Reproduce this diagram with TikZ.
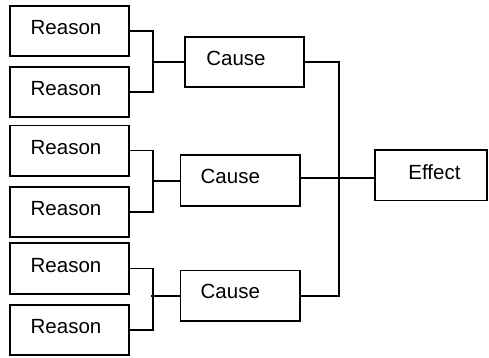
\documentclass[tikz,border=0pt]{standalone}
\usepackage{fontspec}
\setmainfont{Liberation Sans}
\begin{document}
\begin{tikzpicture}[x=1pt,y=-1pt,
  box/.style={draw=black,line width=1.6pt,minimum width=119.5pt,minimum height=50.5pt,inner sep=0pt},
  effbox/.style={box,minimum width=112.5pt},
  txt/.style={inner sep=0pt,font=\fontsize{20.5}{24}\selectfont},
  conn/.style={draw=black,line width=1.4pt}]
\useasboundingbox (0,0) rectangle (489,358);
% Reason boxes
\node[box] (r1) at (69.5,31) {};
\node[box] (r2) at (69.5,92) {};
\node[box] (r3) at (69.5,150.7) {};
\node[box] (r4) at (69.5,212) {};
\node[box] (r5) at (69.5,268.5) {};
\node[box] (r6) at (69.5,330) {};
\foreach \n in {r1,r2,r3,r4,r5,r6}
  \node[txt] at ([shift={(-3.5,-3)}]\n.center) {Reason};
% Cause boxes
\node[box] (c1) at (244.5,62) {};
\node[box] (c2) at (240.3,180.5) {};
\node[box] (c3) at (240.3,295.7) {};
\node[txt] at ([shift={(-8.5,-4)}]c1.center) {Cause};
\node[txt] at ([shift={(-10,-4)}]c2.center) {Cause};
\node[txt] at ([shift={(-10,-4)}]c3.center) {Cause};
% Effect box
\node[effbox] (e) at (431,175.2) {};
\node[txt] at ([shift={(3.5,-3)}]e.center) {Effect};
% bracket junctions
\coordinate (k1) at (153,62);
\coordinate (k2) at (153,181);
\coordinate (k3) at (153,296);
\coordinate (t1) at (339,62);
\coordinate (t3) at (339,296);
\coordinate (j) at (339,178);
% brackets
\draw[conn] (r1.east) -| (k1) |- (r2.east);
\draw[conn] (k1) -- (c1.west);
\draw[conn] (r3.east) -| (k2) |- (r4.east);
\draw[conn] (k2) -- (c2.west |- k2);
\draw[conn] (r5.east) -| (k3) |- (r6.east);
\draw[conn] ([xshift=-2pt]k3) -- (c3.west |- k3);
% trunk
\draw[conn] (c1.east) -- (t1) -- (t3) -- (c3.east |- t3);
\draw[conn] (c2.east |- j) -- (e.west |- j);
\end{tikzpicture}
\end{document}
